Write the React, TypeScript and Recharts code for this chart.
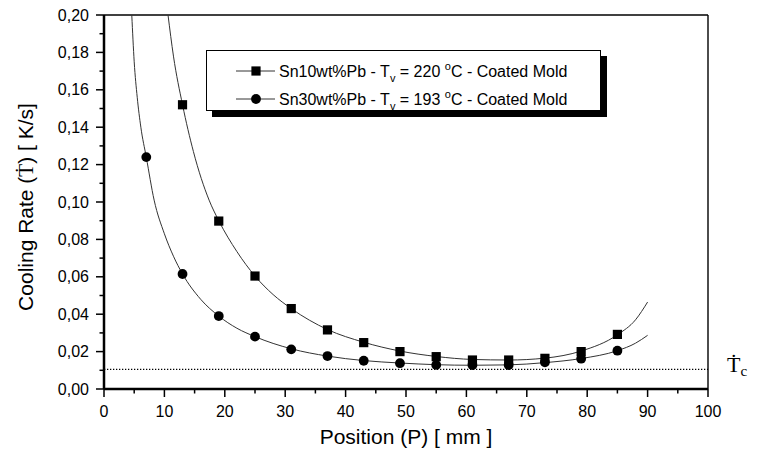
import {
  ComposedChart,
  Legend,
  Line,
  ReferenceLine,
  Scatter,
  XAxis,
  YAxis,
} from "recharts";

// measured cooling rates (K/s) per thermocouple position (mm)
const sn10Pos = [13, 19, 25, 31, 37, 43, 49, 55, 61, 67, 73, 79, 85];
const sn10Rate = [0.152, 0.0898, 0.0604, 0.043, 0.0316, 0.0248, 0.02, 0.0173, 0.0155, 0.0155, 0.0164, 0.02, 0.0292];
const sn30Pos = [7, 13, 19, 25, 31, 37, 43, 49, 55, 61, 67, 73, 79, 85];
const sn30Rate = [0.124, 0.0615, 0.039, 0.028, 0.0212, 0.0176, 0.0151, 0.0138, 0.0129, 0.0128, 0.0128, 0.0143, 0.0162, 0.0205];

// fitted curves
const sn10FitPos = [10.6, 11.5, 13, 14.8, 17.4, 19, 22, 25, 28, 31, 37, 43, 49, 55, 61, 67, 73, 79, 85, 88, 90];
const sn10FitRate = [0.2, 0.178, 0.152, 0.127, 0.101, 0.09, 0.0735, 0.0604, 0.0505, 0.043, 0.0318, 0.025, 0.0203, 0.0174, 0.0158, 0.0155, 0.0165, 0.0203, 0.029, 0.037, 0.0465];
const sn30FitPos = [4.6, 5, 5.5, 6.1, 7, 8.3, 10, 11.5, 13, 16, 19, 22, 25, 31, 37, 43, 49, 55, 61, 67, 73, 79, 85, 88, 90];
const sn30FitRate = [0.2, 0.175, 0.156, 0.14, 0.124, 0.101, 0.083, 0.071, 0.0615, 0.048, 0.039, 0.0325, 0.028, 0.0215, 0.0176, 0.0152, 0.0139, 0.013, 0.0127, 0.0129, 0.0141, 0.0163, 0.0205, 0.0245, 0.0287];

// critical cooling rate
const criticalRate = 0.0105;

const xMajor = [0, 10, 20, 30, 40, 50, 60, 70, 80, 90, 100];
const xMinor = [5, 15, 25, 35, 45, 55, 65, 75, 85, 95];
const yMajor = [0, 0.02, 0.04, 0.06, 0.08, 0.1, 0.12, 0.14, 0.16, 0.18, 0.2];
const yMinor = [0.01, 0.03, 0.05, 0.07, 0.09, 0.11, 0.13, 0.15, 0.17, 0.19];

const legendRows = [
  { alloy: "Sn10wt%Pb", temp: "220", shape: "square" },
  { alloy: "Sn30wt%Pb", temp: "193", shape: "circle" },
];

const SANS = "'Liberation Sans', Arial, Helvetica, sans-serif";
const SERIF = "'Liberation Serif', 'Times New Roman', serif";

const zip = (xs: number[], ys: number[]) => xs.map((x, i) => ({ x, y: ys[i] }));
const isIn = (list: number[], v: number) => list.some((t) => Math.abs(t - v) < 1e-9);
const fmtComma = (v: number) => v.toFixed(2).replace(".", ",");

const YTick = (props: any) => {
  const { x, y, payload } = props;
  const major = isIn(yMajor, payload.value);
  return (
    <g>
      <line x1={x - (major ? 8 : 4.5)} x2={x} y1={y} y2={y} stroke="#000" strokeWidth={1.5} />
      {major && (
        <text x={x - 15} y={y + 5.5} textAnchor="end" fontSize={16} fontFamily={SANS} fill="#000">
          {fmtComma(payload.value)}
        </text>
      )}
    </g>
  );
};

const XTick = (props: any) => {
  const { x, y, payload } = props;
  const major = isIn(xMajor, payload.value);
  return (
    <g>
      <line x1={x} x2={x} y1={y} y2={y + (major ? 8 : 4.5)} stroke="#000" strokeWidth={1.5} />
      {major && (
        <text x={x} y={y + 27.5} textAnchor="middle" fontSize={16} fontFamily={SANS} fill="#000">
          {payload.value}
        </text>
      )}
    </g>
  );
};

const SquareDot = (p: any) => <rect x={p.cx - 4.6} y={p.cy - 4.6} width={9.2} height={9.2} fill="#000" />;
const RoundDot = (p: any) => <circle cx={p.cx} cy={p.cy} r={4.9} fill="#000" />;

function LegendBox() {
  return (
    <div
      style={{
        width: 393,
        height: 59,
        border: "1px solid #000",
        background: "#fff",
        boxShadow: "6px 6px 0 #000",
      }}
    >
      <svg width={393} height={59} style={{ display: "block" }}>
        {legendRows.map((r, i) => {
          const cy = 20 + i * 28;
          return (
            <g key={r.alloy}>
              <line x1={29} x2={68} y1={cy} y2={cy} stroke="#333" strokeWidth={1} />
              {r.shape === "square" ? (
                <rect x={44.4} y={cy - 4.6} width={9.2} height={9.2} fill="#000" />
              ) : (
                <circle cx={49} cy={cy} r={4.9} fill="#000" />
              )}
              <text x={72} y={cy + 5.5} fontSize={16} fontFamily={SANS} fill="#000">
                {r.alloy} - T
                <tspan fontSize={11} dy={5}>v</tspan>
                <tspan dy={-5}> = {r.temp} </tspan>
                <tspan fontSize={11} dy={-7}>o</tspan>
                <tspan dy={7}>C - Coated Mold</tspan>
              </text>
            </g>
          );
        })}
      </svg>
    </div>
  );
}

export default function App() {
  return (
    <div style={{ position: "absolute", left: 0, top: 0, width: 777, height: 455, background: "#fff" }}>
      <ComposedChart width={777} height={455} margin={{ top: 15, right: 69, bottom: 0, left: 0 }}>
        <XAxis
          dataKey="x"
          type="number"
          domain={[0, 100]}
          ticks={[...xMajor, ...xMinor].sort((a, b) => a - b)}
          interval={0}
          allowDataOverflow
          height={66}
          tickSize={0}
          tickMargin={0}
          tickLine={false}
          tick={<XTick />}
          axisLine={{ stroke: "#000", strokeWidth: 2.5 }}
        />
        <YAxis
          type="number"
          domain={[0, 0.2]}
          ticks={[...yMajor, ...yMinor].sort((a, b) => a - b)}
          interval={0}
          allowDataOverflow
          width={104}
          tickSize={0}
          tickMargin={0}
          tickLine={false}
          tick={<YTick />}
          axisLine={{ stroke: "#000", strokeWidth: 2.5 }}
        />
        <ReferenceLine y={0.2} stroke="#000" strokeWidth={1.4} />
        <ReferenceLine x={100} stroke="#000" strokeWidth={1.4} />
        <ReferenceLine y={criticalRate} stroke="#000" strokeWidth={1.2} strokeDasharray="1.3 1.7" />
        <Line
          data={zip(sn10FitPos, sn10FitRate)}
          dataKey="y"
          type="monotone"
          stroke="#333"
          strokeWidth={1}
          dot={false}
          activeDot={false}
          legendType="none"
          isAnimationActive={false}
        />
        <Line
          data={zip(sn30FitPos, sn30FitRate)}
          dataKey="y"
          type="monotone"
          stroke="#333"
          strokeWidth={1}
          dot={false}
          activeDot={false}
          legendType="none"
          isAnimationActive={false}
        />
        <Scatter
          name="Sn10wt%Pb"
          data={zip(sn10Pos, sn10Rate)}
          dataKey="y"
          shape={SquareDot}
          isAnimationActive={false}
        />
        <Scatter
          name="Sn30wt%Pb"
          data={zip(sn30Pos, sn30Rate)}
          dataKey="y"
          shape={RoundDot}
          isAnimationActive={false}
        />
        <Legend
          layout="horizontal"
          verticalAlign="middle"
          align="center"
          content={() => <LegendBox />}
          wrapperStyle={{ left: 206, top: 50, width: 395, height: 61 }}
        />
      </ComposedChart>
      <svg
        width={777}
        height={455}
        style={{ position: "absolute", left: 0, top: 0, pointerEvents: "none" }}
      >
        <text
          transform="translate(33,207) rotate(-90)"
          textAnchor="middle"
          fontSize={21}
          fontFamily={SANS}
          fill="#000"
        >
          Cooling Rate (<tspan fontFamily={SERIF}>Ṫ</tspan>) [ K/s]
        </text>
        <text x={406} y={444} textAnchor="middle" fontSize={21} fontFamily={SANS} fill="#000">
          Position (P) [ mm ]
        </text>
        <text x={727} y={372} fontSize={22} fontFamily={SERIF} fill="#000">
          Ṫ<tspan fontSize={15} dy={4}>c</tspan>
        </text>
      </svg>
    </div>
  );
}
